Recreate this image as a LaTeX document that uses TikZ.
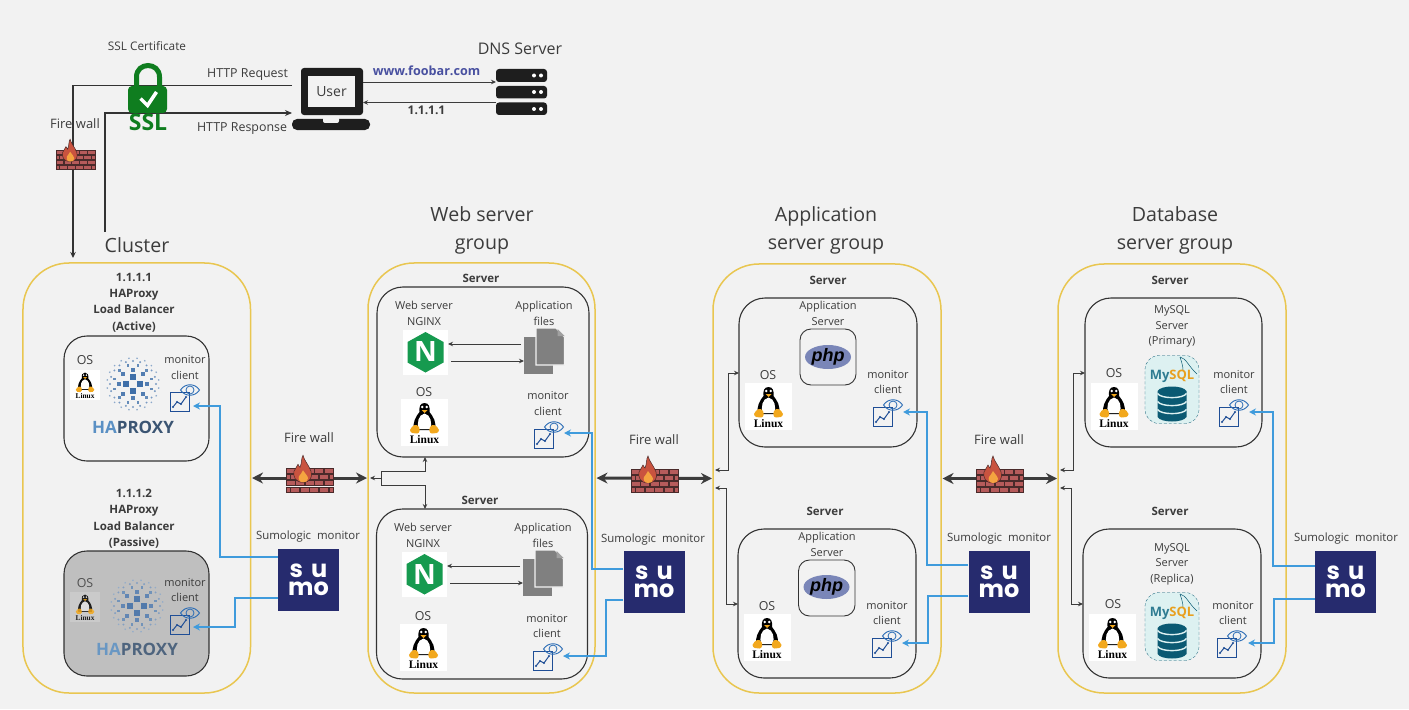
\documentclass[tikz,border=0pt]{standalone}
\usepackage{fontspec}
\setmainfont{Open Sans}
\newfontfamily\serifb{Liberation Serif}
\newfontfamily\libsans{Liberation Sans}
\newfontfamily\popb{Poppins}
\usetikzlibrary{arrows.meta,calc}
\definecolor{bgc}{HTML}{F2F2F2}
\definecolor{gold}{HTML}{E9C650}
\definecolor{ink}{HTML}{3C3C3C}
\definecolor{boxline}{HTML}{333333}
\definecolor{bluelk}{HTML}{3F9BDC}
\definecolor{sumoc}{HTML}{262B6E}
\definecolor{chartc}{HTML}{1F4E96}
\definecolor{eyec}{HTML}{2A6CB5}
\definecolor{hpblue}{HTML}{3F6FA8}
\definecolor{hpdark}{HTML}{3B5573}
\definecolor{hplight}{HTML}{5A90C4}
\definecolor{brick}{HTML}{B65B5B}
\definecolor{brickd}{HTML}{4A2A2A}
\definecolor{flame}{HTML}{C9533F}
\definecolor{flamei}{HTML}{F4A340}
\definecolor{ngx}{HTML}{169A4F}
\definecolor{docg}{HTML}{808080}
\definecolor{phpc}{HTML}{7A86B8}
\definecolor{mint}{HTML}{DDF1F1}
\definecolor{teal}{HTML}{0B5A73}
\definecolor{mysb}{HTML}{2F7C92}
\definecolor{myso}{HTML}{E8A020}
\definecolor{sslg}{HTML}{0F7D1F}
\definecolor{lapc}{HTML}{1E1E1E}
\definecolor{foo}{HTML}{4850A0}
\definecolor{tuxo}{HTML}{F2A81D}
\newcommand\fsz[1]{\fontsize{#1bp}{#1bp}\selectfont}
\newcount\lblc
\tikzset{
  txt/.style={inner sep=0pt,outer sep=0pt,text=ink,font=\fsz{11},align=center,yshift=-1.8bp},
  bt/.style={font=\fsz{11.5}\bfseries},
  sz12/.style={font=\fsz{12.4}},
  sz13/.style={font=\fsz{13}},
  sz16/.style={font=\fsz{16}},
  sz20/.style={font=\fsz{19.6}},
  sumotxt/.style={font=\fsz{11.4}},
  framest/.style={draw=gold,line width=1.5bp,rounded corners=46bp},
  boxst/.style={draw=boxline,line width=1.1bp,rounded corners=26bp},
  hpbox/.style={draw=boxline,line width=1.1bp,rounded corners=23bp},
  phpbox/.style={draw=boxline,line width=.9bp,rounded corners=11bp},
  thinln/.style={draw=ink,line width=.9bp,-{Stealth[length=5bp,width=4.5bp]}},
  thinboth/.style={draw=ink,line width=.9bp,{Stealth[length=5bp,width=4.5bp]}-{Stealth[length=5bp,width=4.5bp]}},
  bigarrow/.style={draw=ink,line width=3bp,{Stealth[length=11bp,width=11bp]}-{Stealth[length=11bp,width=11bp]},shorten <=1.5bp,shorten >=1bp},
  bluelink/.style={draw=bluelk,line width=1.5bp,-{Stealth[length=7bp,width=7bp]}},
  mainln/.style={draw=boxline,line width=1.2bp,-{Stealth[length=7bp,width=6bp]}},
  sumost/.style={fill=sumoc,minimum width=61bp,minimum height=62bp,inner sep=0pt,text=white,align=center,font=\popb\fontsize{24bp}{18bp}\bfseries\selectfont},
  hidden/.style={inner sep=0pt,outer sep=0pt},
}
\newcommand\lbl[4][]{\global\advance\lblc by 1\relax
  \node[txt,#1] (lbl\the\lblc) at (#2,#3) {\vphantom{Ag}#4};}
\newcommand\rbox[7][]{% content, name, style, x1,y1,x2,y2
  \pgfmathsetmacro\rw{#6-#4}\pgfmathsetmacro\rh{#7-#5}%
  \node[#3,minimum width=\rw bp,minimum height=\rh bp,inner sep=0pt,outer sep=0pt] (#2) at ({(#4+#6)/2},{(#5+#7)/2}) {#1};}
\newcommand\tuxtilec{white}
\newcommand\tuxicon[4]{% name,x,y,scale
  \pgfmathsetmacro\tfs{11.5*#4}%
  \begin{scope}[shift={(#2,#3)},scale=#4]
    \fill[\tuxtilec] (0,0) rectangle (47,47);
    \fill[black] (23.5,4) .. controls (19,4) and (18,8) .. (18.5,13) .. controls (15,17) and (11,24) .. (13,31) -- (34,31) .. controls (36,24) and (32,17) .. (28.5,13) .. controls (29,8) and (28,4) .. (23.5,4) -- cycle;
    \fill[white] (23.5,14.5) .. controls (17,16) and (16,24) .. (17.5,30) -- (29.5,30) .. controls (31,24) and (30,16) .. (23.5,14.5) -- cycle;
    \fill[white] (21.3,8) circle (1.4) (25.7,8) circle (1.4);
    \fill[tuxo] (20.5,11) -- (26.5,11) -- (23.5,14) -- cycle;
    \fill[tuxo] (9,31) .. controls (11,26) and (16,24) .. (18,28) .. controls (19,31) and (19,34) .. (16,34.5) .. controls (13,35) and (9,34) .. (9,31) -- cycle;
    \fill[tuxo] (38,31) .. controls (36,26) and (31,24) .. (29,28) .. controls (28,31) and (28,34) .. (31,34.5) .. controls (34,35) and (38,34) .. (38,31) -- cycle;
    \node[hidden,text=black,font=\serifb\fontsize{\tfs bp}{\tfs bp}\selectfont\bfseries] (#1) at (23.5,41) {Linux};
  \end{scope}}
\newcommand\monitoricon[5]{% name, chart x, chart y, tip x, tip y
  \pgfmathsetmacro\mw{#4-#2}%
  \node[hidden,anchor=east,minimum width=\mw bp,minimum height=20bp] (#1) at (#4,#5) {};
  \begin{scope}[shift={(#2,#3)}]
    \draw[chartc,line width=1bp] (0,0) rectangle (19,19);
    \draw[chartc,line width=1bp,line join=round] (3,15) -- (7,10) -- (11,12) -- (16,5);
    \fill[chartc] (3,15) circle (1.1) (7,10) circle (1.1) (11,12) circle (1.1) (16,5) circle (1.1);
    \draw[eyec,line width=.9bp] (10.5,-2) .. controls (15,-9) and (25,-9) .. (29.5,-2) .. controls (25,5) and (15,5) .. (10.5,-2) -- cycle;
    \draw[eyec,line width=.8bp] (20,-2) circle (4);
  \end{scope}}
\newcommand\firewallicon[4]{% name, left, brick top, scale
  \begin{scope}[shift={(#2,#3)},scale=#4]
    \foreach \r in {0,12.4}{\foreach \b in {0,9.5,19,28.5,38}{
      \filldraw[fill=brick,draw=brickd,line width=.6bp] (\b,\r) rectangle ++(9,5);}}
    \foreach \r in {6.2,18.6}{
      \filldraw[fill=brick,draw=brickd,line width=.6bp] (0,\r) rectangle ++(4,5);
      \filldraw[fill=brick,draw=brickd,line width=.6bp] (43,\r) rectangle ++(4,5);
      \foreach \b in {4.5,14,23.5,33}{
      \filldraw[fill=brick,draw=brickd,line width=.6bp] (\b,\r) rectangle ++(9,5);}}
    \filldraw[fill=flame,draw=brickd,line width=.5bp] (17,14) .. controls (9,14) and (7,8) .. (8,3) .. controls (9,0) and (11,-1) .. (12,-4) .. controls (13,-2) and (13.5,-1.5) .. (14,-1) .. controls (16,-5) and (15,-10) .. (17,-13) .. controls (18,-8) and (23,-3) .. (25,3) .. controls (27,9) and (24,14) .. (17,14) -- cycle;
    \fill[flamei] (17,14) .. controls (13,14) and (12,10) .. (13,8) .. controls (14,6) and (16,5) .. (17,2) .. controls (19,5) and (22,8) .. (22,10) .. controls (22,13) and (20,14) .. (17,14) -- cycle;
    \coordinate (#1) at (23.5,10);
  \end{scope}}
\newcommand\haproxylogo[3]{% name, cx, cy
  \begin{scope}[shift={(#2,#3)}]
    \foreach \p/\q in {0/-7,-7/0,7/0,0/7}{\fill[hpblue] (\p-3.2,\q-3.2) rectangle ++(6.4,6.4);}
    \foreach \a in {0,45,...,315}{\fill[hpblue!90] (\a:14) ++(-2,-2) rectangle ++(4,4);}
    \foreach \a in {15,45,...,345}{\fill[hpblue!80] (\a:19) ++(-1.4,-1.4) rectangle ++(2.8,2.8);}
    \foreach \a in {0,18,...,342}{\fill[hpblue!70] (\a:23) circle (1.1);}
    \foreach \a in {9,27,...,351}{\fill[hpblue!60] (\a:26) circle (.9);}
    \node[hidden,font=\fsz{17}\bfseries] (#1) at (0,43) {\textcolor{hplight}{HA}\textcolor{hpdark}{PROXY}};
  \end{scope}}
\newcommand\nginxicon[3]{% name, tile x, tile y
  \node[hidden,fill=white,minimum width=45bp,minimum height=45bp,anchor=north west] (#1) at (#2,#3) {};
  \begin{scope}[shift={(#2,#3)}]
    \fill[ngx] (22.5,2) -- (40.5,12) -- (40.5,32.5) -- (22.5,42.5) -- (4.5,32.5) -- (4.5,12) -- cycle;
    \node[hidden,text=white,font=\fsz{28}\bfseries] (#1n) at (22.5,22) {N};
  \end{scope}}
\newcommand\docsicon[3]{% name, x, y of front doc top-left
  \begin{scope}[shift={(#2,#3)}]
    \node[hidden,minimum width=40.5bp,minimum height=46bp,anchor=north west] (#1) at (-12,0) {};
    \fill[docg] (-12,9) rectangle (17,46);
    \filldraw[fill=docg,draw=bgc,line width=1.2bp] (0,0) -- (20,0) -- (28.5,9) -- (28.5,37) -- (0,37) -- cycle;
    \fill[bgc] (20,-1) -- (30,-1) -- (30,9) -- cycle;
    \fill[docg!75] (21.5,1) -- (28.5,8) -- (21.5,8) -- cycle;
  \end{scope}}
\newcommand\phpicon[3]{% name, cx, cy
  \fill[phpc] (#2,#3) ellipse [x radius=23,y radius=12];
  \node[hidden,text=black,font=\libsans\fsz{18}\bfseries\itshape] (#1) at (#2,#3) {php};}
\newcommand\mysqlicon[3]{% name, x, y
  \begin{scope}[shift={(#2,#3)}]
    \node[hidden,draw=teal,densely dashed,line width=.3bp,fill=mint,rounded corners=14bp,minimum width=54bp,minimum height=68bp] at (27,34.5) {};
    \draw[teal,line width=.5bp] (35,2) .. controls (41,3) and (44,12) .. (52,19);
    \draw[teal,line width=.5bp] (35,2) .. controls (37,8) and (38,12) .. (38,15);
    \node[hidden,font=\fsz{13}\bfseries] (#1) at (27,21) {\textcolor{mysb}{My}\textcolor{myso}{SQL}};
    \fill[teal] (12.5,36) .. controls (16,30) and (38,30) .. (41.5,36) -- (41.5,62) .. controls (38,68) and (16,68) .. (12.5,62) -- cycle;
    \foreach \d in {38.5,46.5,54.5}{\draw[mint,line width=1.4bp] (12.5,\d) .. controls (16,\d+5.5) and (38,\d+5.5) .. (41.5,\d);}
  \end{scope}}
\newcommand\bluearrow[4]{% sumo, offset from top, monitor, elbow offset
  \draw[bluelink] ($(#1.north west)+(0,#2)$) -| ($(#3.east)+(#4,0)$) -- (#3.east);}
\begin{document}
\begin{tikzpicture}[x=1bp,y=-1bp]
\useasboundingbox (0,0) rectangle (1409,709);
\fill[bgc] (0,0) rectangle (1409,709);

%% group frames
\rbox{cluster}{framest}{23}{263}{250.5}{693}
\rbox{web}{framest}{368}{263}{595}{693}
\rbox{app}{framest}{713}{264}{941}{693}
\rbox{db}{framest}{1058}{264}{1286}{693}

%% inner boxes
\rbox{hpa}{hpbox}{64}{336}{209}{461}
\rbox{hpp}{hpbox,fill=black!25}{64}{551}{209}{676}
\rbox{web1}{boxst}{377}{287}{589}{457}
\rbox{web2}{boxst}{376.5}{509}{587.5}{679}
\rbox{app1}{boxst}{739}{298}{917}{447}
\rbox{app2}{boxst}{738}{529}{916}{678}
\rbox{db1}{boxst}{1085}{298}{1262}{447}
\rbox{db2}{boxst}{1083}{529}{1261}{678}

%% top: connections from the user
\coordinate (respstart) at (105,232);
\rbox{dns1}{hidden,fill=lapc,rounded corners=3bp}{496}{69}{547}{82}
\rbox{dns2}{hidden,fill=lapc,rounded corners=3bp}{496}{86}{547}{98.5}
\rbox{dns3}{hidden,fill=lapc,rounded corners=3bp}{496}{102.5}{547}{115}
\fill[white] (534,75.5) circle (2) (541,75.5) circle (2) (534,92) circle (2) (541,92) circle (2) (534,109) circle (2) (541,109) circle (2);
\rbox{laptop}{hidden,fill=lapc,rounded corners=3bp}{301}{68}{363}{115}
\rbox[\fsz{14}\textcolor{ink}{User}]{user}{hidden,fill=bgc}{308}{76}{355}{107}
\rbox{lapbase}{hidden,fill=lapc,rounded corners=5bp}{292}{119}{370}{130}
\fill[bgc,rounded corners=2bp] (323,117) rectangle (339,123);
\draw[mainln,-{Stealth[length=6bp,width=5.5bp]},shorten >=5bp] (lapbase.west |- 0,85.7) -| (73,0 |- cluster.north);
\draw[mainln] (respstart) |- (lapbase.west |- 0,113);
\draw[thinln] (laptop.east |- dns1.south) -- (dns1.south west);
\draw[thinln] (dns3.north west) -- (laptop.east |- dns3.north);
\lbl[font=\fsz{11.8}]{147}{46}{SSL Certificate}
\lbl[sz16]{520}{49}{DNS Server}
\lbl[sz12,anchor=east]{288}{72.7}{HTTP Request}
\lbl[sz12,anchor=east]{287}{127}{HTTP Response}
\lbl[font=\fsz{12.6}\bfseries,text=foo]{426.5}{70}{www.foobar.com}
\lbl[font=\fsz{12}\bfseries]{426.5}{110}{1.1.1.1}
%% lock
\draw[sslg,line width=5bp] (136.5,88) -- (136.5,77) .. controls (136.5,61.7) and (159.5,61.7) .. (159.5,77) -- (159.5,88);
\rbox{lockbody}{hidden,fill=sslg,rounded corners=4bp}{128}{86}{167}{113}
\draw[white,line width=3.5bp,line join=miter] (140.5,98.5) -- (147.5,105.5) -- (156.5,92);
\lbl[font=\fsz{23}\bfseries,text=sslg]{148}{123}{SSL}
%% firewall at the user
\lbl[sz13]{75}{123}{Fire wall}
\firewallicon{fw0}{56}{150}{.83}

\lbl[sz20]{137}{246}{Cluster}
\lbl[sz20]{482}{215}{Web server}
\lbl[sz20]{482}{243}{group}
\lbl[sz20]{826}{215}{Application}
\lbl[sz20]{826}{243}{server group}
\lbl[sz20]{1175}{215}{Database}
\lbl[sz20]{1175}{243}{server group}

%% firewalls between groups
\draw[bigarrow] (cluster.east) -- (web.west);
\draw[bigarrow] (web.east) -- (app.west);
\draw[bigarrow] (app.east) -- (db.west);
\firewallicon{fw1}{286}{468.3}{1}
\firewallicon{fw2}{631}{469}{1}
\firewallicon{fw3}{976}{469}{1}
\lbl[sz13]{309}{437}{Fire wall}
\lbl[sz13]{654}{439}{Fire wall}
\lbl[sz13]{999}{439}{Fire wall}

%% Sumologic
\lbl[sumotxt]{308}{535}{Sumologic\ \ monitor}
\lbl[sumotxt]{653}{538}{Sumologic\ \ monitor}
\lbl[sumotxt]{999}{537}{Sumologic\ \ monitor}
\lbl[sumotxt]{1346}{537}{Sumologic\ \ monitor}
\node[sumost] (sumo1) at (308.5,580) {s\hspace{3bp} u\\mo};
\node[sumost] (sumo2) at (654,582) {s\hspace{3bp} u\\mo};
\node[sumost] (sumo3) at (999,582) {s\hspace{3bp} u\\mo};
\node[sumost] (sumo4) at (1345.5,582) {s\hspace{3bp} u\\mo};

%% cluster contents
\lbl[bt]{134}{277}{1.1.1.1}
\lbl[bt]{134}{293}{HAProxy}
\lbl[bt]{134}{309}{Load Balancer}
\lbl[bt]{134}{326}{(Active)}
\lbl[bt]{134}{493}{1.1.1.2}
\lbl[bt]{134}{509}{HAProxy}
\lbl[bt]{134}{526}{Load Balancer}
\lbl[bt]{134}{542}{(Passive)}
\lbl[sz12]{85}{360}{OS}
\tuxicon{tux1}{70}{370}{.64}
\haproxylogo{hplogo1}{133}{384}
\lbl{185}{359}{monitor}
\lbl{185}{375}{client}
\monitoricon{mon1}{170}{392}{193}{406}
\begin{scope}[opacity=.85]
\lbl[sz12]{85}{583}{OS}
\renewcommand\tuxtilec{black!20}
\tuxicon{tux2}{70}{592}{.64}
\renewcommand\tuxtilec{white}
\haproxylogo{hplogo2}{137}{606}
\end{scope}
\lbl{185}{582}{monitor}
\lbl{185}{597}{client}
\monitoricon{mon2}{170}{615}{193}{627}

%% web contents
\lbl[bt]{481}{278}{Server}
\lbl[bt]{480}{500}{Server}
\lbl{424}{305}{Web server}
\lbl{424}{321}{NGINX}
\lbl{544}{305}{Application}
\lbl{544}{321}{files}
\nginxicon{ngx1}{403}{330}
\docsicon{doc1}{536}{328}
\draw[thinln,shorten <=3bp] (doc1.west |- 0,344) -- (ngx1.east |- 0,344);
\draw[thinln,shorten <=3bp] (ngx1.east |- 0,361) -- (doc1.west |- 0,361);
\lbl[sz12]{424}{392}{OS}
\tuxicon{tux3}{401}{399}{1}
\lbl{548}{395}{monitor}
\lbl{548}{411}{client}
\monitoricon{mon3}{534}{429}{564}{433}
\lbl{423}{527}{Web server}
\lbl{423}{543}{NGINX}
\lbl{543}{527}{Application}
\lbl{543}{543}{files}
\nginxicon{ngx2}{402}{552}
\docsicon{doc2}{535}{550}
\draw[thinln,shorten <=3bp] (doc2.west |- 0,566) -- (ngx2.east |- 0,566);
\draw[thinln,shorten <=3bp] (ngx2.east |- 0,583) -- (doc2.west |- 0,583);
\lbl[sz12]{423}{616}{OS}
\tuxicon{tux4}{400}{624}{1}
\lbl{547}{618}{monitor}
\lbl{547}{633}{client}
\monitoricon{mon4}{533}{651}{563}{656}
\coordinate (webfork) at (381,478);
\draw[thinln,shorten >=2bp] (webfork) -- (web.west |- webfork);
\draw[thinln] (webfork) -- (381,471) -| (425,0 |- web1.south);
\draw[thinln] (webfork) -- (381,485) -| (425,0 |- web2.north);

%% app contents
\lbl[bt]{828}{280}{Server}
\lbl[bt]{825}{511}{Server}
\lbl{828}{305}{Application}
\lbl{828}{321}{Server}
\rbox{php1box}{phpbox}{800}{329}{856}{385}
\phpicon{php1}{828}{357}
\lbl[sz12]{768}{375}{OS}
\tuxicon{tux5}{745}{383}{1}
\lbl{888}{374}{monitor}
\lbl{888}{389}{client}
\monitoricon{mon5}{873}{407}{903}{412}
\lbl{827}{536}{Application}
\lbl{827}{552}{Server}
\rbox{php2box}{phpbox}{798.5}{560}{855}{616}
\phpicon{php2}{826.5}{587}
\lbl[sz12]{767}{606}{OS}
\tuxicon{tux6}{743.5}{614}{1}
\lbl{887}{605}{monitor}
\lbl{887}{620}{client}
\monitoricon{mon6}{872}{638}{902}{643}
\draw[thinboth,shorten <=2bp] (app.west |- 0,470) -- (728,470) |- (app1.west |- 0,373);
\draw[thinboth,shorten <=2bp] (app.west |- 0,488) -- (726.5,488) |- (app2.west |- 0,604);

%% database contents
\lbl[bt]{1170}{280}{Server}
\lbl[bt]{1170}{511}{Server}
\lbl{1172}{309}{MySQL}
\lbl{1172}{325}{Server}
\lbl{1172}{340}{(Primary)}
\mysqlicon{my1}{1145}{355}
\lbl[sz12]{1114}{373}{OS}
\tuxicon{tux7}{1090.5}{383}{1}
\lbl{1234}{374}{monitor}
\lbl{1234}{389}{client}
\monitoricon{mon7}{1219}{407}{1249}{412}
\lbl{1172}{547}{MySQL}
\lbl{1172}{562}{Server}
\lbl{1172}{578}{(Replica)}
\mysqlicon{my2}{1145}{592}
\lbl[sz12]{1113}{604}{OS}
\tuxicon{tux8}{1089}{614}{1}
\lbl{1233}{605}{monitor}
\lbl{1233}{620}{client}
\monitoricon{mon8}{1217}{638}{1248}{643}
\draw[thinboth,shorten <=2bp] (db.west |- 0,470) -- (1073,470) |- (db1.west |- 0,373);
\draw[thinboth,shorten <=2bp] (db.west |- 0,488) -- (1071,488) |- (db2.west |- 0,604);

%% blue monitor links
\bluearrow{sumo1}{8}{mon1}{27}
\bluearrow{sumo1}{49}{mon2}{42}
\bluearrow{sumo2}{18}{mon3}{28}
\bluearrow{sumo2}{49}{mon4}{43}
\bluearrow{sumo3}{14}{mon5}{24}
\bluearrow{sumo3}{45}{mon6}{26}
\bluearrow{sumo4}{15}{mon7}{24}
\bluearrow{sumo4}{48}{mon8}{26}
\end{tikzpicture}
\end{document}
